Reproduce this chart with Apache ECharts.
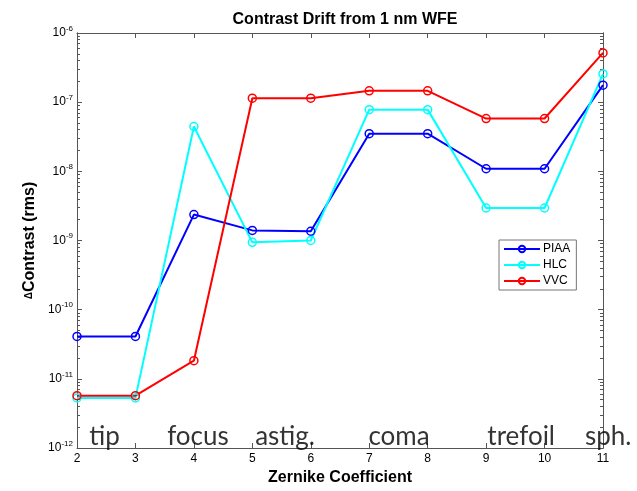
<!DOCTYPE html>
<html>
<head>
<meta charset="utf-8">
<script src="https://cdn.jsdelivr.net/npm/echarts@6/dist/echarts.min.js"></script>
<style>
  html, body { margin: 0; padding: 0; background: #fff; }
  #chart { width: 637px; height: 491px; }
</style>
</head>
<body>
<div id="chart"></div>
<script>
// Zernike coefficient index
const zernike = [2, 3, 4, 5, 6, 7, 8, 9, 10, 11];
const piaa = [4.1e-11, 4.1e-11, 2.37e-9, 1.4e-9, 1.36e-9, 3.5e-8, 3.5e-8, 1.09e-8, 1.09e-8, 1.76e-7];
const hlc = [5.3e-12, 5.3e-12, 4.45e-8, 9.4e-10, 1.0e-9, 7.8e-8, 7.8e-8, 2.95e-9, 2.95e-9, 2.56e-7];
const vvc = [5.7e-12, 5.7e-12, 1.83e-11, 1.14e-7, 1.14e-7, 1.46e-7, 1.46e-7, 5.8e-8, 5.8e-8, 5.15e-7];
// aberration names written inside the plot
const termNames = ["tip", "focus", "astig.", "coma", "trefoil", "sph."];
const termX = [2.47, 4.07, 5.56, 7.51, 9.6, 11.09];

const minorTicks = [];
for (let e = -12; e < -6; e++) {
  for (let m = 2; m <= 9; m++) {
    minorTicks.push(m * Math.pow(10, e));
  }
}

const axisColor = "#555";
const font = "Liberation Sans, Arial, sans-serif";

const chart = echarts.init(document.getElementById("chart"));

const pair = (ys) => zernike.map((x, i) => [x, ys[i]]);

const lineSeries = (name, color, ys) => ({
  name: name,
  type: "line",
  data: pair(ys),
  symbol: "circle",
  symbolSize: 8,
  color: color,
  lineStyle: { width: 2, color: color },
  itemStyle: { color: "rgba(0,0,0,0)", borderColor: color, borderWidth: 1.5 },
  animation: false,
});

const yAxisBase = (pos, showLabel, ticks, len) => ({
  type: "log",
  position: pos,
  min: 1e-12,
  max: 1e-6,
  logBase: 10,
  splitLine: { show: false },
  axisLine: { show: true, lineStyle: { color: axisColor, width: 1 } },
  axisTick: {
    show: true,
    inside: true,
    length: len,
    lineStyle: { color: axisColor },
    customValues: ticks,
  },
  axisLabel: showLabel
    ? {
        show: true,
        fontFamily: font,
        fontSize: 12,
        color: "#000",
        margin: 4,
        formatter: (v) => "10{s|" + Math.round(Math.log10(v)) + "}",
        rich: {
          s: { fontSize: 8, padding: [0, 0, 9, 0], fontFamily: font, color: "#000" },
        },
      }
    : { show: false },
});

const decades = [1e-12, 1e-11, 1e-10, 1e-9, 1e-8, 1e-7, 1e-6];

const option = {
  backgroundColor: "#fff",
  title: {
    text: "Contrast Drift from 1 nm WFE",
    left: 340,
    textAlign: "center",
    top: 7,
    textStyle: { fontFamily: font, fontSize: 16, fontWeight: "bold", color: "#000" },
  },
  grid: { left: 77, right: 34, top: 33, bottom: 42, containLabel: false },
  legend: {
    orient: "vertical",
    left: 499,
    top: 240,
    padding: [3, 6, 3, 4],
    itemGap: 4,
    itemWidth: 36,
    itemHeight: 8,
    backgroundColor: "#fff",
    borderColor: "#777",
    borderWidth: 1,
    borderRadius: 0,
    textStyle: { fontFamily: font, fontSize: 12, color: "#000", padding: [0, 0, 0, -2] },
    data: ["PIAA", "HLC", "VVC"],
  },
  xAxis: [
    {
      type: "value",
      min: 2,
      max: 11,
      interval: 1,
      position: "bottom",
      name: "Zernike Coefficient",
      nameLocation: "middle",
      nameGap: 22,
      nameTextStyle: { fontFamily: font, fontSize: 16, fontWeight: "bold", color: "#000" },
      splitLine: { show: false },
      axisLine: { show: true, lineStyle: { color: axisColor } },
      axisTick: { show: true, inside: true, length: 5, lineStyle: { color: axisColor } },
      axisLabel: { fontFamily: font, fontSize: 12, color: "#000", margin: 5 },
    },
    {
      type: "value",
      min: 2,
      max: 11,
      interval: 1,
      position: "top",
      splitLine: { show: false },
      axisLine: { show: true, lineStyle: { color: axisColor } },
      axisTick: { show: true, inside: true, length: 5, lineStyle: { color: axisColor } },
      axisLabel: { show: false },
    },
  ],
  yAxis: [
    Object.assign(yAxisBase("left", true, decades, 5), {
      name: "{d|\u0394}Contrast (rms)",
      nameLocation: "middle",
      nameGap: 37,
      nameRotate: 90,
      nameTextStyle: {
        fontFamily: font,
        fontSize: 16,
        fontWeight: "bold",
        color: "#000",
        rich: { d: { fontFamily: font, fontSize: 10, color: "#000" } },
      },
    }),
    yAxisBase("left", false, minorTicks, 3),
    yAxisBase("right", false, decades, 5),
    yAxisBase("right", false, minorTicks, 3),
  ],
  series: [
    lineSeries("PIAA", "#0000ff", piaa),
    lineSeries("HLC", "#00ffff", hlc),
    lineSeries("VVC", "#ff0000", vvc),
    {
      type: "scatter",
      data: termNames.map((n, i) => ({ name: n, value: [termX[i], 1e-12] })),
      symbolSize: 0,
      clip: false,
      silent: true,
      animation: false,
      label: {
        show: true,
        position: "top",
        distance: -2,
        formatter: (p) => p.name,
        fontFamily: "Lato, Open Sans, sans-serif",
        fontSize: 26,
        color: "#000",
      },
    },
  ],
};

chart.setOption(option);
</script>
</body>
</html>
